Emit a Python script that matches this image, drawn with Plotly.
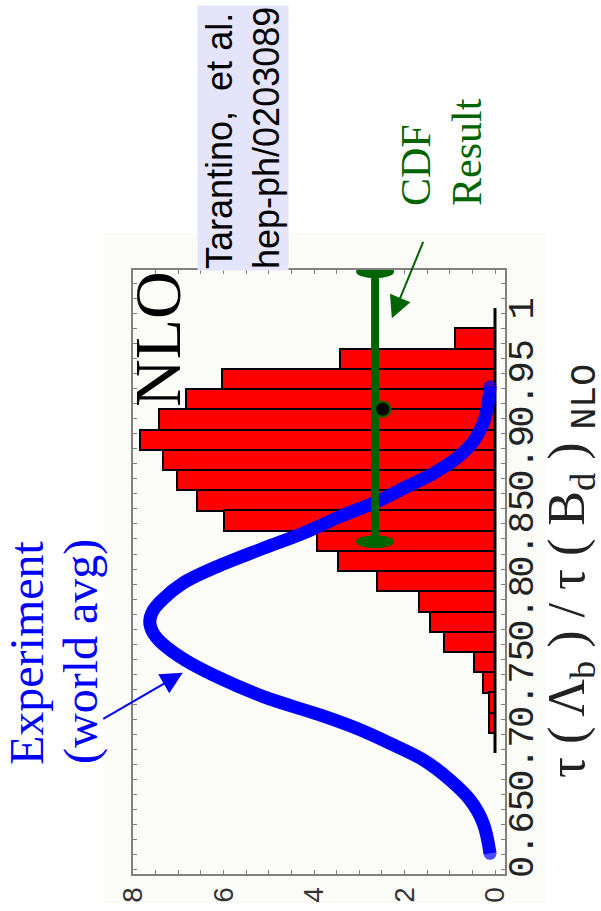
import plotly.graph_objects as go

# ---------------- data ----------------
# Tarantino et al. NLO histogram (ratio bins, top -> bottom)
bin_centres = [0.9970, 0.9836, 0.9701, 0.9566, 0.9431, 0.9297, 0.9162, 0.9027,
               0.8892, 0.8757, 0.8623, 0.8488, 0.8353, 0.8218, 0.8084, 0.7949,
               0.7814, 0.7679, 0.7544, 0.7410, 0.7275, 0.7140]
bin_heights = [0.0, 0.88, 3.43, 6.04, 6.83, 7.42, 7.85, 7.34, 7.02, 6.58, 6.00,
               3.94, 3.48, 2.60, 1.67, 1.44, 1.13, 0.46, 0.26, 0.13, 0.13, 0.0]
bin_width = 0.01348
hist_span = [0.7073, 1.0038]

# Experiment (world avg) curve
gauss_ratio = [0.9515, 0.9405, 0.9271, 0.9149, 0.9038, 0.8938, 0.8849, 0.8749,
               0.8649, 0.8538, 0.8438, 0.8315, 0.8205, 0.8093, 0.8021, 0.7949,
               0.7877, 0.7805, 0.7693, 0.7582, 0.7449, 0.7327, 0.7238, 0.7138,
               0.7027, 0.6893, 0.6760, 0.6605, 0.6405]
gauss_density = [0.11, 0.15, 0.26, 0.48, 0.85, 1.36, 1.95, 2.61, 3.43, 4.24,
                 5.12, 6.15, 6.90, 7.36, 7.56, 7.63, 7.56, 7.36, 6.85, 6.15,
                 5.12, 3.87, 3.06, 2.32, 1.58, 0.99, 0.55, 0.26, 0.11]

# CDF result
cdf_ratio = 0.9365
cdf_hi = 1.0282
cdf_lo = 0.8482
cdf_bar_x = 2.65
cdf_dot_x = 2.48

# axes
x_range = [8, -0.221]
x_tickvals = [0, 2, 4, 6, 8]
x_ticktext = ["0", "2", "4", "6", "8"]
y_range = [0.6267, 1.0293]
y_tickvals = [0.65, 0.70, 0.75, 0.80, 0.85, 0.90, 0.95, 1.00]
y_ticktext = ["0.65", "0.7", "0.75", "0.8", "0.85", "0.9", "0.95", "1"]

# ---------------- layout helpers (pixel -> paper) ----------------
W, H = 601, 911
ML, MR, MT, MB = 133, 96, 270, 37
PW, PH = W - ML - MR, H - MT - MB


def px(x):
    return (x - ML) / PW


def py(y):
    return (H - MB - y) / PH


GREEN = "#006400"
BLUE = "#0000ff"
SERIF = "Liberation Serif"
SANS = "Liberation Sans"
MONO = "Liberation Mono"

fig = go.Figure()

fig.add_trace(go.Bar(
    orientation="h", y=bin_centres, x=bin_heights, width=bin_width,
    marker=dict(color="#ff0000", line=dict(color="black", width=2)),
    showlegend=False, hoverinfo="skip"))

fig.add_trace(go.Scatter(
    x=[0, 0], y=hist_span, mode="lines",
    line=dict(color="black", width=3), showlegend=False, hoverinfo="skip"))

end_sizes = [13] + [0] * (len(gauss_ratio) - 2) + [13]
fig.add_trace(go.Scatter(
    x=gauss_density, y=gauss_ratio, mode="lines+markers",
    line=dict(color=BLUE, width=13, shape="spline", smoothing=1.0),
    marker=dict(color=BLUE, size=end_sizes, line=dict(width=0)),
    showlegend=False, hoverinfo="skip", cliponaxis=False))

fig.add_trace(go.Scatter(
    x=[cdf_bar_x, cdf_bar_x], y=[cdf_lo, cdf_hi], mode="lines",
    line=dict(color=GREEN, width=8), showlegend=False, hoverinfo="skip",
    cliponaxis=False))

fig.add_trace(go.Scatter(
    x=[cdf_dot_x], y=[cdf_ratio], mode="markers",
    marker=dict(color="black", size=15, line=dict(color=GREEN, width=2)),
    showlegend=False, hoverinfo="skip"))

shapes = [
    # off-white pasted-image background
    dict(type="rect", xref="paper", yref="paper", x0=px(104), x1=px(545),
         y0=py(903), y1=py(233), fillcolor="#fbfbf8", line=dict(width=0),
         layer="below"),
]
for yv in (cdf_hi, cdf_lo):
    shapes.append(dict(type="circle", xref="x", yref="y",
                       xsizemode="pixel", ysizemode="pixel",
                       xanchor=cdf_bar_x, yanchor=yv,
                       x0=-19, x1=19, y0=-6.5, y1=6.5,
                       fillcolor=GREEN, line=dict(width=0), layer="above"))

title_text = ("τ ( Λ<sub>b</sub> ) / τ ( B<sub>d</sub> ) "
              "<span style='font-family:Liberation Mono'><sub>NLO</sub></span>")

annotations = [
    dict(text="NLO", xref="paper", yref="paper", x=px(157), y=py(339),
         showarrow=False, textangle=-90, font=dict(family=SERIF, size=66, color="black"),
         xanchor="center", yanchor="middle"),
    dict(text="Tarantino,  et al.<br>hep-ph/0203089", xref="paper", yref="paper",
         x=px(243), y=py(271), showarrow=False, textangle=-90, align="left",
         font=dict(family=SANS, size=36, color="black"), bgcolor="#e4e4fa",
         xanchor="center", yanchor="bottom", borderpad=1),
    dict(text="CDF", xref="paper", yref="paper",
         x=px(416), y=py(208), showarrow=False, textangle=-90,
         font=dict(family=SERIF, size=42, color=GREEN),
         xanchor="center", yanchor="bottom"),
    dict(text="Result", xref="paper", yref="paper",
         x=px(467), y=py(208), showarrow=False, textangle=-90,
         font=dict(family=SERIF, size=42, color=GREEN),
         xanchor="center", yanchor="bottom"),
    dict(text="Experiment", xref="paper", yref="paper",
         x=px(26), y=py(652), showarrow=False, textangle=-90,
         font=dict(family=SERIF, size=48, color=BLUE),
         xanchor="center", yanchor="middle"),
    dict(text="(world avg)", xref="paper", yref="paper",
         x=px(81), y=py(652), showarrow=False, textangle=-90,
         font=dict(family=SERIF, size=48, color=BLUE),
         xanchor="center", yanchor="middle"),
    dict(text=title_text,
         xref="paper", yref="paper", x=px(572), y=py(571), showarrow=False,
         textangle=-90, font=dict(family=SERIF, size=52, color="#222222"),
         xanchor="center", yanchor="middle"),
    # arrows
    dict(text="", xref="x", yref="y", x=6.90, y=0.7609, showarrow=True,
         ax=-81, ay=47, arrowcolor=BLUE, arrowwidth=2, arrowhead=2, arrowsize=2.2,
         standoff=0),
    dict(text="", xref="x", yref="y", x=2.28, y=0.9971, showarrow=True,
         ax=32, ay=-78, arrowcolor=GREEN, arrowwidth=2, arrowhead=2, arrowsize=2.2,
         standoff=0),
]

axis_common = dict(showline=True, linecolor="#808080", linewidth=2, mirror="ticks",
                   ticks="inside", ticklen=4, tickcolor="#808080", tickwidth=1,
                   showgrid=False, zeroline=False)

fig.update_layout(
    width=W, height=H,
    margin=dict(l=ML, r=MR, t=MT, b=MB, autoexpand=False),
    paper_bgcolor="white", plot_bgcolor="#fcfcfa",
    bargap=0,
    shapes=shapes, annotations=annotations,
    xaxis=dict(range=x_range, tickmode="array", tickvals=x_tickvals,
               ticktext=x_ticktext, tickangle=-90,
               tickfont=dict(family=SANS, size=28, color="#333333"),
               minor=dict(dtick=0.5, tick0=0, ticks="inside", ticklen=4,
                          tickcolor="#808080", showgrid=False),
               **axis_common),
    yaxis=dict(range=y_range, side="right", tickmode="array", tickvals=y_tickvals,
               ticktext=y_ticktext, tickangle=-90, ticklabelstandoff=-18,
               tickfont=dict(family=MONO, size=37, color="#222222"),
               minor=dict(dtick=0.01, tick0=0, ticks="inside", ticklen=4,
                          tickcolor="#808080", showgrid=False),
               **axis_common),
)

fig.write_html("out.html")
